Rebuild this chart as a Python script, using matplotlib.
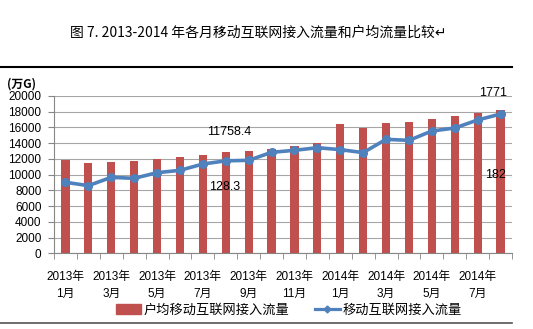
import matplotlib
matplotlib.use("Agg")
import matplotlib.pyplot as plt
import numpy as np
from matplotlib.lines import Line2D
from matplotlib.patches import Patch

plt.rcParams['font.family'] = ['Liberation Sans', 'Noto Sans CJK SC', 'DejaVu Sans']

# monthly data, 2013-01 .. 2014-08
months = ["2013年\n1月", "", "2013年\n3月", "", "2013年\n5月", "", "2013年\n7月", "",
          "2013年\n9月", "", "2013年\n11月", "", "2014年\n1月", "", "2014年\n3月", "",
          "2014年\n5月", "", "2014年\n7月", ""]
per_user = [11860, 11440, 11650, 11730, 11950, 12240, 12500, 12830, 13000, 13300,
            13640, 13980, 16400, 15970, 16570, 16740, 17120, 17460, 17800, 18200]
total = [9030, 8600, 9660, 9530, 10250, 10550, 11350, 11758.4, 11820, 12840,
         13090, 13430, 13180, 12800, 14490, 14360, 15550, 15930, 16950, 17710]

title = "图 7. 2013-2014 年各月移动互联网接入流量和户均流量比较↵"
bar_name = "户均移动互联网接入流量"
line_name = "移动互联网接入流量"
red = "#C0504D"
blue = "#4F81BD"

W, H = 533, 329
fig = plt.figure(figsize=(W / 100, H / 100), dpi=100)
ax = fig.add_axes([54 / W, 1 - 253.3 / H, (512 - 54) / W, (253.3 - 96) / H])

x = np.arange(len(per_user))
ax.bar(x, per_user, width=0.36, color=red, zorder=2)
ax.plot(x, total, color=blue, lw=2.6, marker='o', ms=5.5, zorder=3)

ax.set_xlim(-0.5, 19.17)
ax.set_ylim(0, 20000)
ax.set_yticks(np.arange(0, 20001, 2000))
ax.grid(axis='y', color='#a6a6a6', lw=0.8, zorder=0)

ax.set_xticks(x[::2])
ax.set_xticklabels(months[::2], fontsize=8.5, linespacing=1.5)
ax.set_xticks(np.arange(-0.5, 19.6, 1), minor=True)
ax.tick_params(axis='x', which='major', length=0, pad=13)
ax.tick_params(axis='x', which='minor', length=4, color='#868686')
ax.tick_params(axis='y', length=4, color='#868686', labelsize=8.5, pad=5)
for s in ['top', 'right']:
    ax.spines[s].set_visible(False)
for s in ['left', 'bottom']:
    ax.spines[s].set_color('#868686')

fig.text(7 / W, 1 - 84 / H, "(万G)", fontsize=8.5, fontweight='bold',
         ha='left', va='center', family=['Noto Sans CJK SC', 'DejaVu Sans'])

# data labels; the source picture is cropped, so the right ones are cut short
labels = [(7.16, 15460, "11758.4", 'center'), (6.97, 8470, "128.3", 'center'),
          (18.08, 20400, "1771", 'left'), (18.33, 9960, "182", 'left')]
for lx, ly, s, ha in labels:
    ax.text(lx, ly, s, fontsize=9, ha=ha, va='center', zorder=4, clip_on=False)

fig.text(258 / W, 1 - 33 / H, title, fontsize=10, ha='center', va='center',
         family=['Noto Sans CJK SC', 'DejaVu Sans'])

fig.add_artist(Line2D([0, 512 / W], [1 - 66.7 / H] * 2, color='black', lw=1.5))
fig.add_artist(Line2D([0, 512 / W], [1 - 323.3 / H] * 2, color='#555555', lw=1.2))

handles = [Patch(color=red, label=bar_name),
           Line2D([], [], color=blue, lw=2.3, marker='D', ms=3.5, label=line_name)]
fig.legend(handles=handles, loc='center', bbox_to_anchor=(289 / W, 1 - 310 / H),
           ncol=2, frameon=False, handlelength=1.9,
           handletextpad=0.2, columnspacing=1.9, borderpad=0,
           prop={'family': ['Noto Sans CJK SC', 'DejaVu Sans'], 'size': 9.5})

fig.savefig("out.png", dpi=100)
